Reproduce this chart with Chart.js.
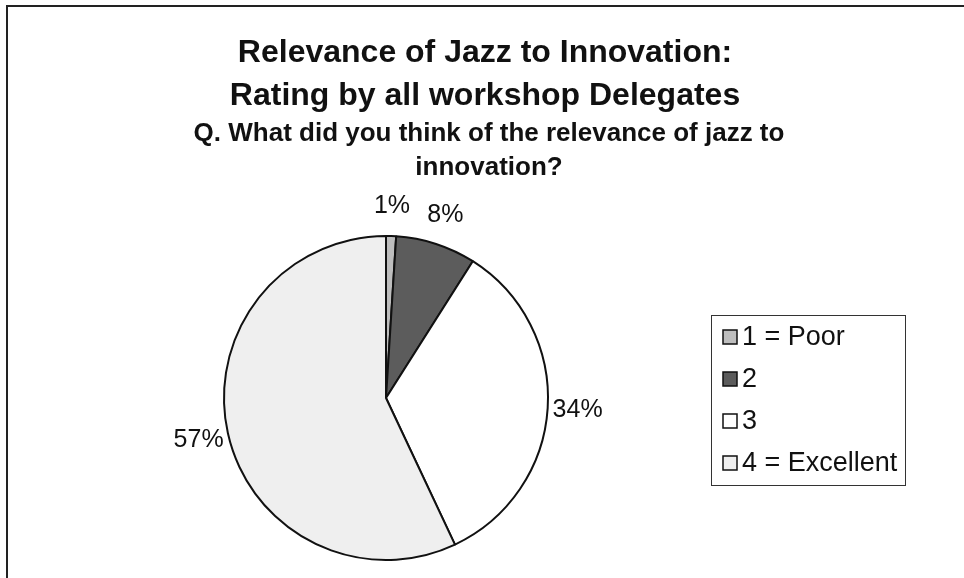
<!DOCTYPE html>
<html>
<head>
    <meta charset="UTF-8">
    <title>Relevance of Jazz to Innovation</title>
    <script src="https://cdn.jsdelivr.net/npm/chart.js"></script>
    <style>
        html, body { margin: 0; padding: 0; background: #fff; }
        #wrap { width: 964px; height: 578px; position: relative; }
    </style>
</head>

<body>
    <div id="wrap">
        <canvas id="pieChart" width="964" height="578"></canvas>
    </div>

    <script>
        // chart data
        const categories = ['1 = Poor', '2', '3', '4 = Excellent'];
        const ratings = [1, 8, 34, 57];
        const sliceColors = ['#bebebe', '#5c5c5c', '#ffffff', '#efefef'];
        const titleLines = ['Relevance of Jazz to Innovation:', 'Rating by all workshop Delegates'];
        const subtitleLines = ['Q. What did you think of the relevance of jazz to', 'innovation?'];

        const FONT = '"Liberation Sans", Arial, sans-serif';

        // frame, titles, outside % labels and boxed legend
        const decorations = {
            id: 'decorations',
            beforeDraw(chart) {
                const ctx = chart.ctx;
                ctx.save();
                ctx.fillStyle = '#fff';
                ctx.fillRect(0, 0, chart.width, chart.height);
                ctx.strokeStyle = '#222';
                ctx.lineWidth = 2;
                ctx.strokeRect(7, 6, chart.width + 20, chart.height + 20);
                ctx.restore();
            },
            afterDraw(chart) {
                const ctx = chart.ctx;
                ctx.save();
                ctx.fillStyle = '#111';
                ctx.textAlign = 'center';
                ctx.textBaseline = 'middle';

                ctx.font = 'bold 32px ' + FONT;
                ctx.fillText(titleLines[0], 485, 53);
                ctx.fillText(titleLines[1], 485, 96);
                ctx.font = 'bold 26px ' + FONT;
                ctx.fillText(subtitleLines[0], 489, 134);
                ctx.fillText(subtitleLines[1], 489, 168);

                // percent labels outside the pie
                const meta = chart.getDatasetMeta(0);
                const total = ratings.reduce((a, b) => a + b, 0);
                ctx.font = '25px ' + FONT;
                meta.data.forEach((arc, i) => {
                    const mid = (arc.startAngle + arc.endAngle) / 2;
                    const r = arc.outerRadius + 30;
                    const x = arc.x + Math.cos(mid) * r;
                    const y = arc.y + Math.sin(mid) * r;
                    ctx.fillText(Math.round(ratings[i] / total * 100) + '%', x, y);
                });

                // legend box
                const lx = 711, ly = 315, lw = 194, lh = 170;
                ctx.strokeStyle = '#333';
                ctx.lineWidth = 1;
                ctx.strokeRect(lx + 0.5, ly + 0.5, lw, lh);
                ctx.textAlign = 'left';
                ctx.font = '27px ' + FONT;
                categories.forEach((c, i) => {
                    const cy = 337 + i * 42;
                    ctx.fillStyle = sliceColors[i];
                    ctx.fillRect(723, cy - 7, 14, 14);
                    ctx.strokeStyle = '#111';
                    ctx.lineWidth = 1.5;
                    ctx.strokeRect(723, cy - 7, 14, 14);
                    ctx.fillStyle = '#111';
                    ctx.fillText(c, 742, cy + 1);
                });
                ctx.restore();
            }
        };

        const ctx = document.getElementById('pieChart').getContext('2d');
        new Chart(ctx, {
            type: 'pie',
            data: {
                labels: categories,
                datasets: [{
                    data: ratings,
                    backgroundColor: sliceColors,
                    borderColor: '#111',
                    borderWidth: 2
                }]
            },
            options: {
                responsive: false,
                animation: false,
                rotation: 0,
                layout: {
                    padding: { left: 223, right: 415, top: 235, bottom: 17 }
                },
                plugins: {
                    legend: { display: false },
                    tooltip: { enabled: false }
                }
            },
            plugins: [decorations]
        });
    </script>
</body>
</html>
